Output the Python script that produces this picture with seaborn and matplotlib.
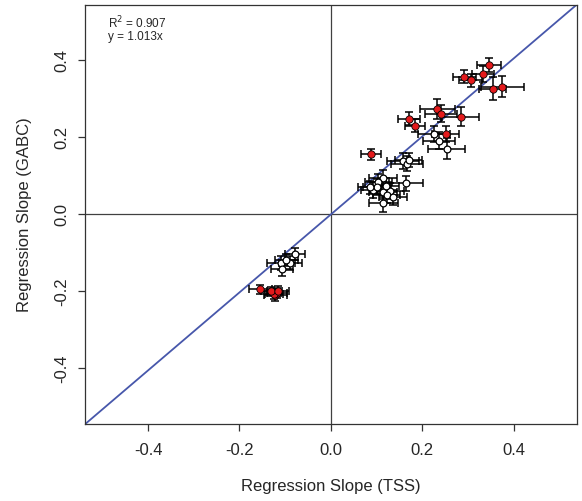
import matplotlib
matplotlib.use("Agg")
import matplotlib.pyplot as plt
import seaborn as sns
import numpy as np
import pandas as pd

# Red (filled) points: TSS slope, GABC slope, errors
red_x = [0.346, 0.292, 0.306, 0.333, 0.354, 0.375, 0.233, 0.241, 0.284, 0.171, 0.184, 0.251, 0.087,
         -0.154, -0.122, -0.118, -0.125, -0.130, -0.115]
red_y = [0.388, 0.358, 0.349, 0.365, 0.327, 0.332, 0.274, 0.262, 0.254, 0.249, 0.230, 0.209, 0.156,
         -0.195, -0.210, -0.204, -0.207, -0.200, -0.200]
red_xerr = [0.026, 0.025, 0.025, 0.025, 0.030, 0.047, 0.038, 0.035, 0.040, 0.024, 0.022, 0.030, 0.022,
            0.025, 0.025, 0.022, 0.020, 0.022, 0.024]
red_yerr = [0.018, 0.017, 0.017, 0.020, 0.030, 0.028, 0.025, 0.022, 0.025, 0.017, 0.017, 0.020, 0.015,
            0.012, 0.015, 0.013, 0.013, 0.012, 0.013]

# White (open) points
white_x = [0.225, 0.237, 0.253, 0.158, 0.166, 0.170, 0.164, 0.114, 0.104, 0.093, 0.101, 0.114, 0.130,
           0.122, 0.136, 0.115, 0.085, 0.120,
           -0.079, -0.109, -0.089, -0.107, -0.098]
white_y = [0.209, 0.191, 0.171, 0.139, 0.132, 0.142, 0.081, 0.095, 0.085, 0.063, 0.072, 0.059, 0.061,
           0.050, 0.044, 0.029, 0.070, 0.075,
           -0.103, -0.127, -0.127, -0.143, -0.118]
white_xerr = [0.035, 0.035, 0.040, 0.035, 0.035, 0.030, 0.037, 0.030, 0.030, 0.028, 0.030, 0.030, 0.030,
              0.030, 0.030, 0.032, 0.025, 0.030,
              0.022, 0.030, 0.025, 0.025, 0.025]
white_yerr = [0.020, 0.022, 0.028, 0.020, 0.020, 0.018, 0.020, 0.020, 0.020, 0.020, 0.020, 0.020, 0.020,
              0.020, 0.020, 0.022, 0.018, 0.020,
              0.015, 0.018, 0.018, 0.018, 0.015]

slope = 1.013
annot_lines = ["R$^2$ = 0.907", "y = 1.013x"]
x_ticks = [-0.4, -0.2, 0.0, 0.2, 0.4]
y_ticks = [-0.4, -0.2, 0.0, 0.2, 0.4]

sns.set_style("ticks")
plt.rcParams["font.family"] = ["Liberation Sans", "DejaVu Sans"]

fig = plt.figure(figsize=(5.82, 5.01), dpi=100)
ax = fig.add_axes([0.146, 0.154, 0.845, 0.836])

lim = (-0.538, 0.538)
ylim = (-0.544, 0.544)
ax.set_xlim(*lim)
ax.set_ylim(*ylim)

ax.axhline(0, color="#404040", lw=0.9, zorder=1)
ax.axvline(0, color="#404040", lw=0.9, zorder=1)
xs = np.array([-0.6, 0.6])
ax.plot(xs, slope * xs, color="#4757ab", lw=1.3, zorder=2)

for xv, yv, xe, ye in [(white_x, white_y, white_xerr, white_yerr), (red_x, red_y, red_xerr, red_yerr)]:
    ax.errorbar(xv, yv, xerr=xe, yerr=ye, fmt="none", ecolor="black", elinewidth=1.1,
                capsize=2.8, capthick=1.1, zorder=3)

dfw = pd.DataFrame({"x": white_x, "y": white_y})
dfr = pd.DataFrame({"x": red_x, "y": red_y})
sns.scatterplot(data=dfw, x="x", y="y", ax=ax, color="white", edgecolor="black", s=24, linewidth=0.9, zorder=4)
sns.scatterplot(data=dfr, x="x", y="y", ax=ax, color="#e41a1c", edgecolor="black", s=28, linewidth=0.6, zorder=5)

ax.set_xticks(x_ticks)
ax.set_yticks(y_ticks)
ax.set_xticklabels([f"{t:.1f}" for t in x_ticks], fontsize=12)
ax.set_yticklabels([f"{t:.1f}" for t in y_ticks], fontsize=12, rotation=90, va="center")
ax.tick_params(axis="both", direction="out", length=5, width=0.9, color="#333333")
ax.tick_params(axis="x", pad=9)
ax.tick_params(axis="y", pad=6)
for sp in ax.spines.values():
    sp.set_visible(True)
    sp.set_linewidth(0.9)
    sp.set_color("#333333")

ax.set_xlabel("Regression Slope (TSS)", fontsize=12, labelpad=15)
ax.set_ylabel("Regression Slope (GABC)", fontsize=12, labelpad=16)

ax.text(0.046, 0.977, annot_lines[0] + "\n" + annot_lines[1], transform=ax.transAxes,
        fontsize=8.5, va="top", ha="left", linespacing=1.0)

fig.savefig("out.png", dpi=100)
